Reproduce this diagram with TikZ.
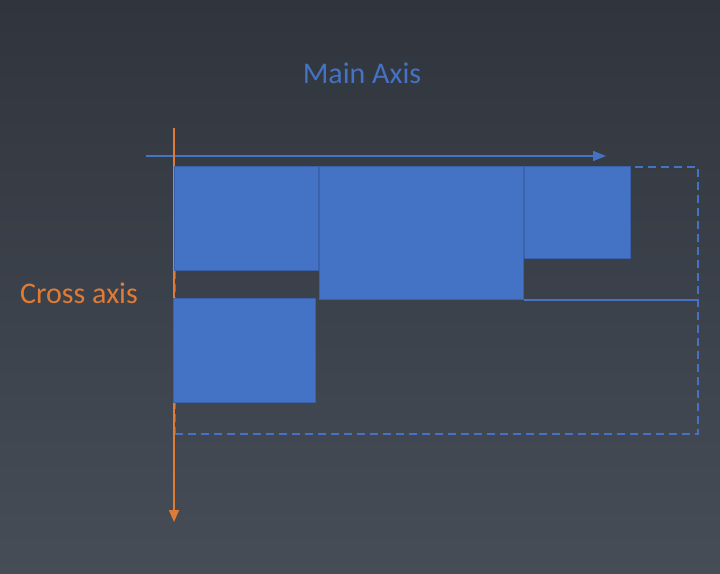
\documentclass[tikz,border=0pt]{standalone}
\usepackage{fontspec}
\setmainfont{Carlito}
\usetikzlibrary{arrows.meta,positioning}

\definecolor{mainblue}{HTML}{4472C4}
\definecolor{edgeblue}{HTML}{3A62AC}
\definecolor{crossorange}{HTML}{E07B35}
\definecolor{bgtop}{HTML}{30353D}
\definecolor{bgbottom}{HTML}{464D57}

\begin{document}
\begin{tikzpicture}[x=1pt, y=-1pt,
	item/.style={draw=edgeblue, line width=1pt, fill=mainblue, anchor=north west, inner sep=0pt},
	axislabel/.style={font=\fontsize{30}{30}\selectfont}]

		% === background ===
		\shade[top color=bgtop, bottom color=bgbottom] (0,0) rectangle (720,573);
		\useasboundingbox (0,0) rectangle (720,573);

		% === axis labels ===
		\node[axislabel, text=mainblue] (mainlbl) at (362,73) {Main Axis};
		\node[axislabel, text=crossorange] (crosslbl) at (79,293) {Cross axis};

		% === container ===
		\node[draw=mainblue, dash pattern=on 8pt off 5pt, line width=1.5pt,
			minimum width=523pt, minimum height=267pt, anchor=north west, inner sep=0pt]
			(box) at (174,166) {};

		% === axes ===
		\coordinate (mstart) at (146,156);	\coordinate (mend) at (606,156);
		\coordinate (cstart) at (174,128);	\coordinate (cend) at (174,522);
		\draw[mainblue, line width=1.5pt, -{Triangle[length=13pt,width=10pt]}] (mstart) -- (mend);
		\draw[crossorange, line width=1.5pt, -{Triangle[length=12pt,width=10pt]}] (cstart) -- (cend);

		% === flex items ===
		\node[item, minimum width=144pt, minimum height=104pt] (b1) at (174,166) {};
		\node[item, minimum width=204pt, minimum height=133pt] (b2) at (319,166) {};
		\node[item, minimum width=106pt, minimum height=92pt] (b3) at (524,166) {};
		\node[item, minimum width=142pt, minimum height=104pt] (b4) at (173,298) {};

		% === line break ===
		\draw[mainblue, line width=1.5pt] (b2.south east) -- (box.east |- b2.south east);
	\end{tikzpicture}
\end{document}
